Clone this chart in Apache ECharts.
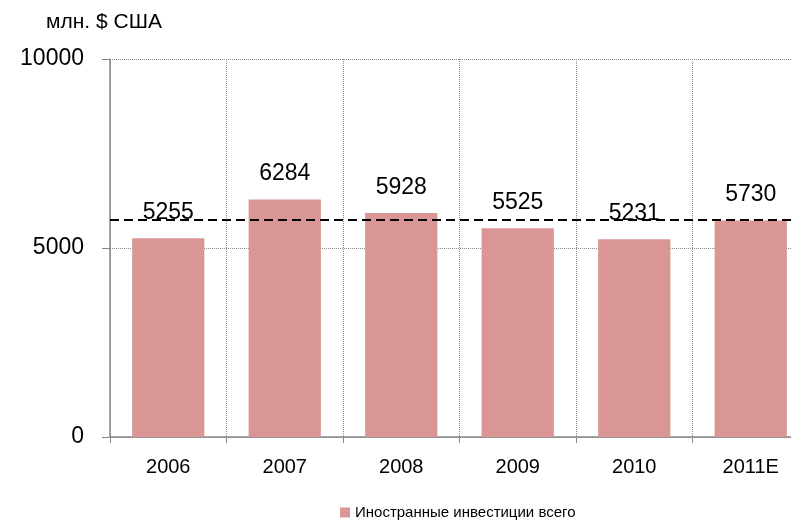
<!DOCTYPE html>
<html>
<head>
<meta charset="utf-8">
<script src="https://cdn.jsdelivr.net/npm/echarts@6/dist/echarts.min.js"></script>
<style>
  * { margin: 0; padding: 0; }
  body { width: 791px; height: 523px; overflow: hidden; background: #fff; }
  /* the last category runs past the right edge, as in the source */
  #chart { width: 809px; height: 523px; }
</style>
</head>
<body>
<div id="chart"></div>
<script>
var years = ["2006", "2007", "2008", "2009", "2010", "2011E"];
var investments = [5255, 6284, 5928, 5525, 5231, 5730];
var yTicks = [0, 5000, 10000];
var refLevel = 5740; // dashed horizontal line
var unitLabel = "млн. $ США";
var seriesName = "Иностранные инвестиции всего";

var font = "'Liberation Sans', Arial, sans-serif";
var myChart = echarts.init(document.getElementById("chart"));

var option = {
  animation: false,
  title: {
    text: unitLabel,
    left: 41,
    top: 7,
    textStyle: { fontFamily: font, fontSize: 21, fontWeight: "normal", color: "#000" }
  },
  legend: {
    bottom: -2,
    left: 335,
    itemWidth: 10,
    itemHeight: 10,
    itemGap: 6,
    icon: "rect",
    textStyle: { fontFamily: font, fontSize: 15, color: "#000" },
    data: [seriesName]
  },
  grid: {
    left: 110,
    right: 0,
    top: 59,
    bottom: 86
  },
  xAxis: {
    type: "category",
    data: years,
    axisLine: { lineStyle: { color: "#868686", width: 1.5 } },
    axisTick: { show: true, length: 6, lineStyle: { color: "#868686" } },
    axisLabel: { fontFamily: font, fontSize: 20, color: "#000", margin: 20 },
    splitLine: { show: true, lineStyle: { type: "dotted", color: "#8c8c8c" } }
  },
  yAxis: {
    type: "value",
    min: yTicks[0],
    max: yTicks[yTicks.length - 1],
    interval: yTicks[1] - yTicks[0],
    axisLine: { show: true, lineStyle: { color: "#868686", width: 1.5 } },
    axisTick: { show: true, length: 8, lineStyle: { color: "#868686" } },
    axisLabel: {
      fontFamily: font, fontSize: 23, color: "#000", margin: 26,
      formatter: function (v) { return String(v); }
    },
    splitLine: { show: true, lineStyle: { type: "dotted", color: "#8c8c8c" } }
  },
  series: [
    {
      name: seriesName,
      type: "bar",
      data: investments,
      barWidth: "62%",
      itemStyle: { color: "#D99694" },
      label: {
        show: true,
        position: "top",
        distance: 14,
        fontFamily: font,
        fontSize: 23,
        color: "#000"
      },
      markLine: {
        silent: true,
        symbol: "none",
        label: { show: false },
        lineStyle: { type: [9, 5], color: "#000", width: 2 },
        data: [{ yAxis: refLevel }]
      }
    }
  ]
};

myChart.setOption(option);
</script>
</body>
</html>
